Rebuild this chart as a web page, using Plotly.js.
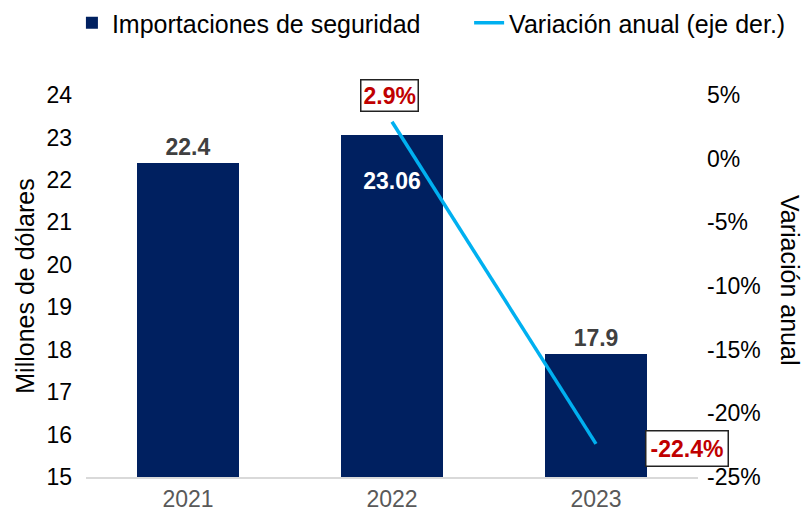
<!DOCTYPE html>
<html><head><meta charset="utf-8">
<script src="https://cdn.plot.ly/plotly-3.0.1.min.js"></script>
<style>body{margin:0;background:#fff}#c{width:803px;height:515px}</style>
</head><body><div id="c"></div>
<script>
const years = ['2021','2022','2023'];
const imports = [22.4, 23.06, 17.9];
const importLabels = ['22.4','&nbsp;<br>23.06','17.9'];
const varYears = ['2022','2023'];
const variation = [2.9, -22.4];
const varLabels = ['2.9%','-22.4%'];
const leftTicks = [15,16,17,18,19,20,21,22,23,24];
const rightTicks = [5,0,-5,-10,-15,-20,-25];

const F = 'Liberation Sans, Arial, sans-serif';
const traces = [
  {type:'bar', x:years, y:imports, name:'Importaciones de seguridad', legend:'legend',
   marker:{color:'#002060'}, width:0.5,
   text:importLabels, textposition:['outside','inside','outside'],
   insidetextanchor:'end', cliponaxis:false, constraintext:'none',
   textfont:{family:F, size:23, color:['#404040','#ffffff','#404040'], weight:'bold'},
   hoverinfo:'skip'},
  {type:'scatter', mode:'lines', x:varYears, y:variation, yaxis:'y2', legend:'legend2',
   name:'Variación anual (eje der.)', line:{color:'#00B0F0', width:3.5}, hoverinfo:'skip'}
];
const idx = varYears.map(v => years.indexOf(v));
const ann = [
  {x:idx[0], y:variation[0], xref:'x', yref:'y2', text:'<b>'+varLabels[0]+'</b>', showarrow:false,
   yshift:26, xshift:-3, font:{family:F,size:23,color:'#C00000'}, bordercolor:'#222', borderwidth:1.5,
   bgcolor:'#fff', borderpad:2},
  {x:idx[1], y:variation[1], xref:'x', yref:'y2', text:'<b>'+varLabels[1]+'</b>', showarrow:false,
   xshift:91, yshift:-5, font:{family:F,size:23,color:'#C00000'}, bordercolor:'#222', borderwidth:1.5,
   bgcolor:'#fff', borderpad:4},
  {x:1.0, xref:'paper', xanchor:'center', y:0.5, yref:'paper', xshift:92, yshift:6, text:'Variación anual',
   textangle:90, showarrow:false, font:{family:F,size:25,color:'#000'}}
];
const legFont = {family:F,size:25,color:'#000'};
Plotly.newPlot('c', traces, {
  width:803, height:515,
  margin:{l:86, r:105, t:95, b:38},
  paper_bgcolor:'#fff', plot_bgcolor:'#fff',
  showlegend:true,
  legend:{orientation:'h', x:-0.023, xanchor:'left', y:1, yref:'container', yanchor:'top',
          font:legFont, itemwidth:30},
  legend2:{orientation:'h', x:0.626, xanchor:'left', y:1, yref:'container', yanchor:'top',
          font:legFont, itemwidth:30},
  xaxis:{type:'category', showgrid:false, showline:true, linecolor:'#d9d9d9', linewidth:1.5,
         ticks:'', tickfont:{family:F,size:23,color:'#595959'}, range:[-0.5,2.5], ticklabelstandoff:1},
  yaxis:{range:[15,24], tickvals:leftTicks, showgrid:false, zeroline:false, showline:false, ticks:'',
         tickfont:{family:F,size:23,color:'#000'}, ticklabelstandoff:13,
         title:{text:'Millones de dólares', font:{family:F,size:25,color:'#000'}, standoff:4}},
  yaxis2:{overlaying:'y', side:'right', range:[-25,5], tickvals:rightTicks,
          ticktext:rightTicks.map(v=>v+'%'), showgrid:false, zeroline:false, showline:false, ticks:'',
          tickfont:{family:F,size:23,color:'#000'}, ticklabelstandoff:8},
  annotations:ann
}, {displayModeBar:false, staticPlot:true});
</script></body></html>
